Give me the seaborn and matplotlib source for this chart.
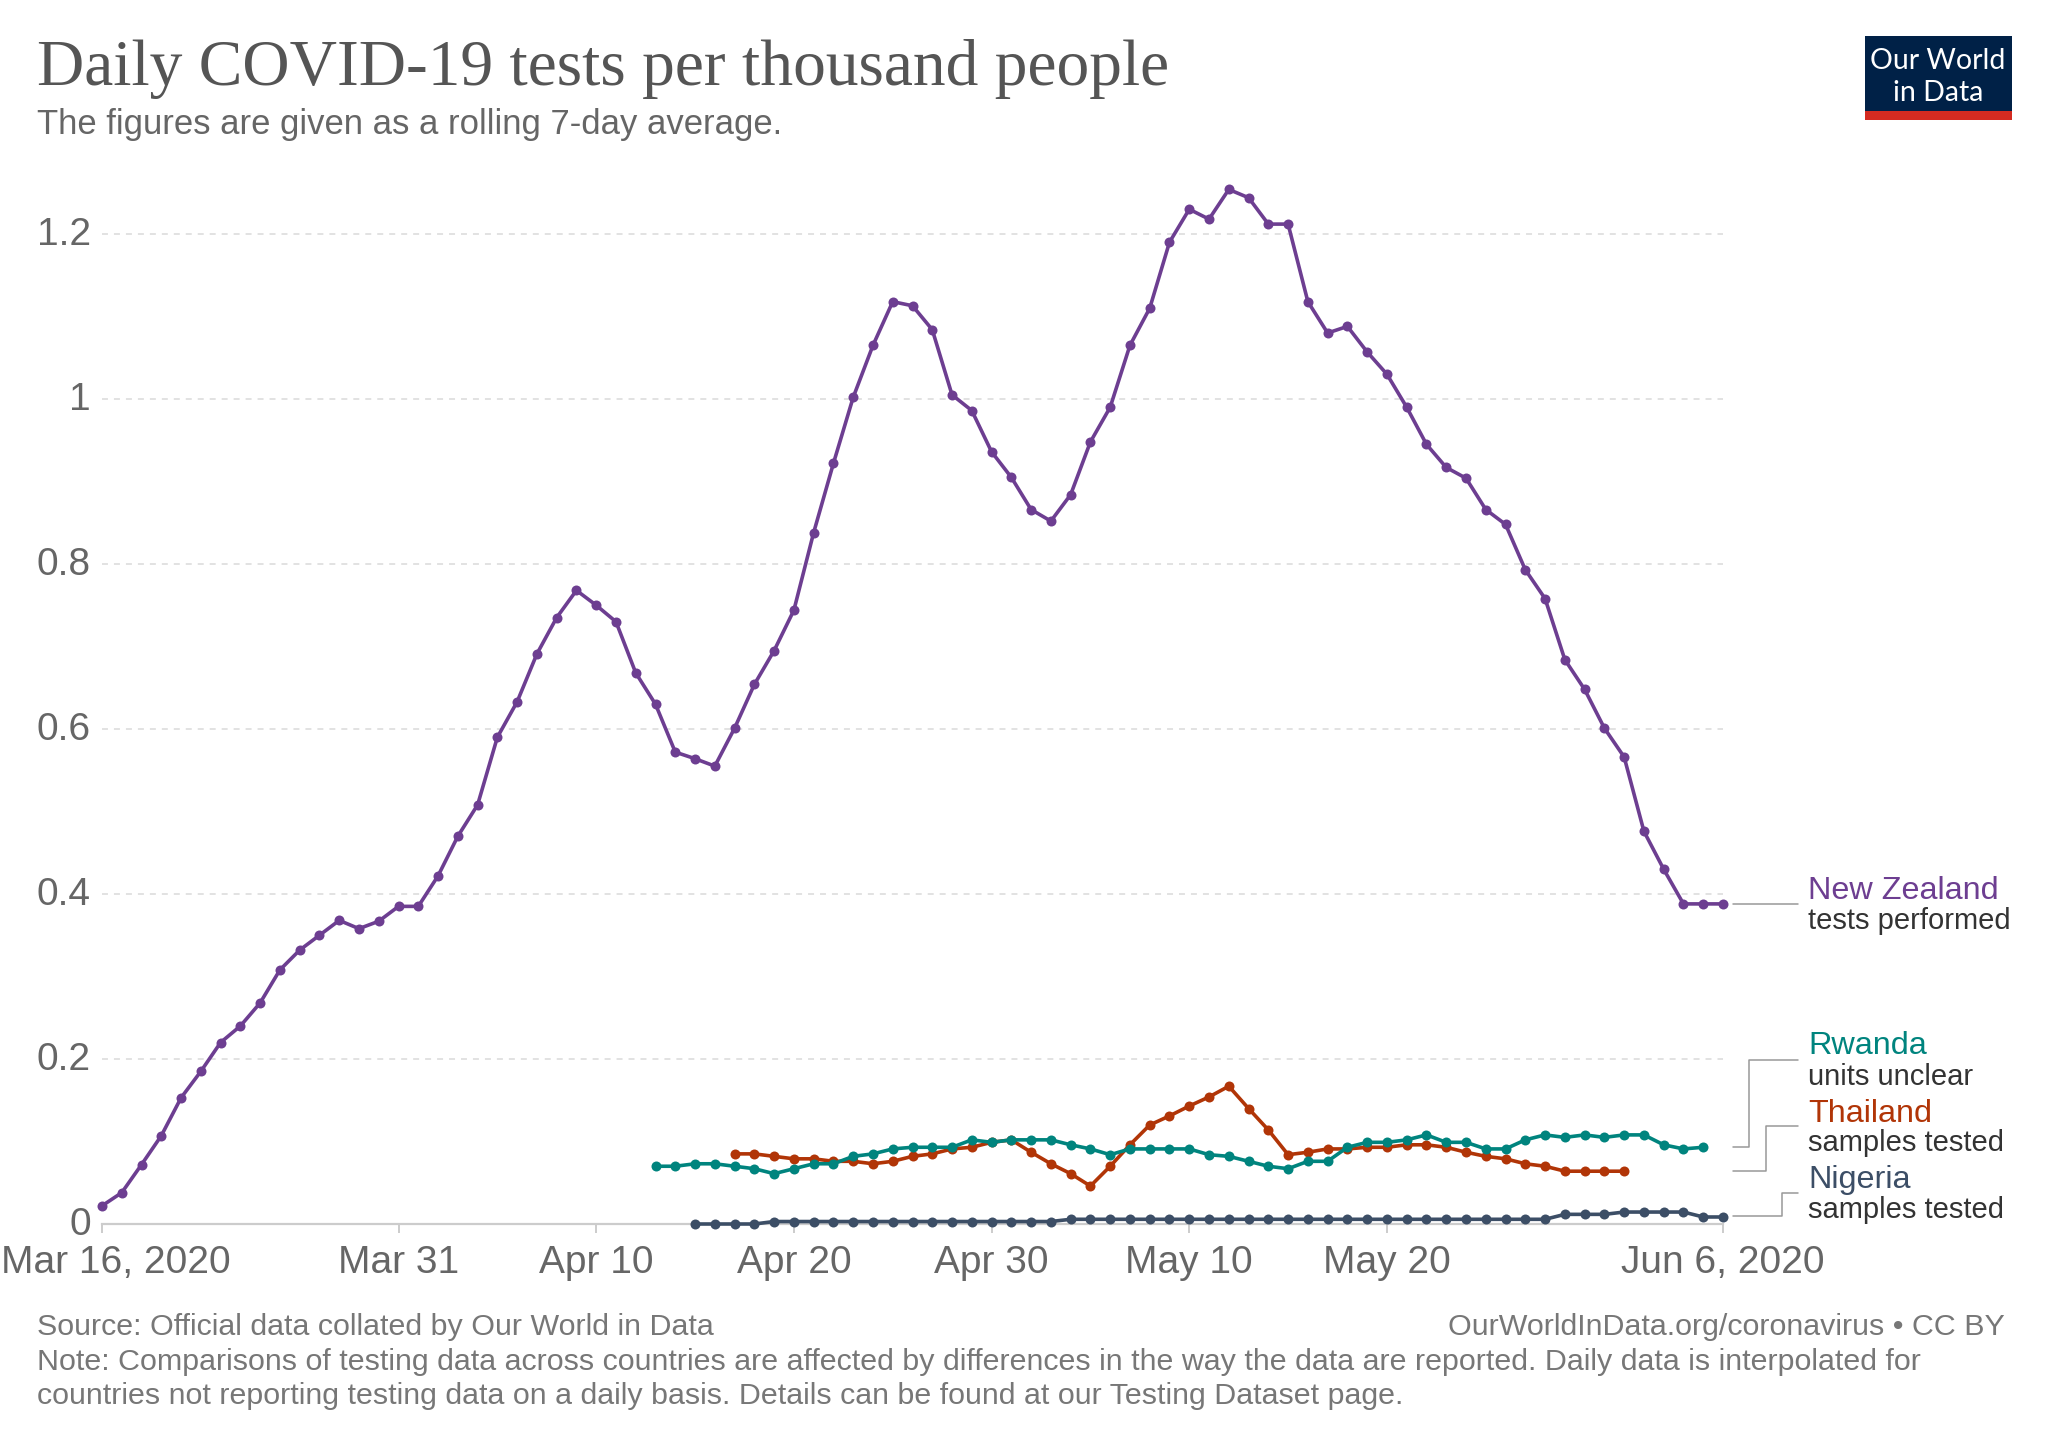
import matplotlib
matplotlib.use("Agg")
import matplotlib.pyplot as plt
from matplotlib.lines import Line2D
from matplotlib.patches import Rectangle
from matplotlib.transforms import ScaledTranslation
import numpy as np
import pandas as pd
import seaborn as sns

W, H = 2048, 1446

# values, one per day from the start date
SERIES = {
	"New Zealand": ("2020-03-16", [
		.022, .038, .072, .107, .153, .185, .22, .24, .268, .308, .332, .35, .368, .358, .367, .385, .385,
		.422, .47, .508, .59, .633, .691, .735, .768, .75, .73, .668, .63, .572, .564, .555, .601, .654,
		.695, .744, .838, .922, 1.002, 1.065, 1.118, 1.113, 1.084, 1.005, .986, .936, .905, .866, .852,
		.884, .948, .99, 1.065, 1.11, 1.19, 1.23, 1.218, 1.254, 1.244, 1.212, 1.212, 1.118, 1.08, 1.088,
		1.057, 1.03, .99, .945, .917, .904, .866, .848, .793, .758, .684, .648, .601, .566, .476, .43,
		.388, .388, .388]),
	"Nigeria": ("2020-04-15", [
		0, 0, 0, 0, .003, .003, .003, .003, .003, .003, .003, .003, .003, .003, .003, .003, .003, .003, .003,
		.0057, .0057, .0057, .0057, .0057, .0057, .0057, .0057, .0057, .0057, .0057, .0057, .0057, .0057, .0057,
		.0057, .0057, .0057, .0057, .0057, .0057, .0057, .0057, .0057, .0057, .0117, .0117, .0117, .0145, .0145,
		.0145, .0145, .0085, .0085]),
	"Thailand": ("2020-04-17", [
		.085, .085, .082, .079, .079, .076, .076, .073, .076, .082, .085, .091, .093, .099, .102, .087, .073,
		.061, .046, .07, .096, .12, .131, .143, .154, .167, .14, .114, .084, .087, .091, .091, .093, .093,
		.096, .096, .093, .087, .082, .079, .073, .07, .064, .064, .064, .064]),
	"Rwanda": ("2020-04-13", [
		.07, .07, .073, .073, .07, .067, .061, .067, .073, .073, .082, .085, .091, .093, .093, .093, .102,
		.099, .102, .102, .102, .096, .091, .084, .091, .091, .091, .091, .084, .082, .076, .07, .067, .076,
		.076, .093, .099, .099, .102, .108, .099, .099, .091, .091, .102, .108, .105, .108, .105, .108, .108,
		.096, .091, .093]),
}
COLORS = {"New Zealand": "#6D3E91", "Nigeria": "#3C4E66", "Thailand": "#B13507", "Rwanda": "#00847E"}

def px(x, y):
	return x / W, 1 - y / H

def text(fig, x, y, s, **kw):
	fig.text(*px(x, y), s, va="baseline", **kw)

def build_table():
	rows = []
	for name, (start, values) in SERIES.items():
		rows.append(pd.DataFrame({
			"date": pd.date_range(start, periods=len(values)),
			"tests": values,
			"country": name,
		}))
	return pd.concat(rows, ignore_index=True)

def main():
	sns.set_style("white")
	plt.rcParams["font.family"] = ["Liberation Sans", "DejaVu Sans"]

	fig = plt.figure(figsize=(W / 100, H / 100), dpi=100)
	top = 1.27
	ax = fig.add_axes([102 / W, (H - 1224) / H, 1621 / W, top * 825 / H])

	df = build_table()
	sns.lineplot(data=df, x="date", y="tests", hue="country", hue_order=list(SERIES), palette=COLORS,
		estimator=None, sort=False, marker="o", markersize=7.2, markeredgewidth=0, linewidth=2.6,
		legend=False, clip_on=False, zorder=3, ax=ax)

	ax.set_xlim(pd.Timestamp("2020-03-16"), pd.Timestamp("2020-06-06"))
	ax.set_ylim(0, top)
	ax.set_xlabel("")
	ax.set_ylabel("")

	# axes
	ticks = pd.to_datetime(["2020-03-16", "2020-03-31", "2020-04-10", "2020-04-20", "2020-04-30",
		"2020-05-10", "2020-05-20", "2020-06-06"])
	ax.set_xticks(ticks)
	ax.set_xticklabels(["Mar 16, 2020", "Mar 31", "Apr 10", "Apr 20", "Apr 30", "May 10", "May 20", "Jun 6, 2020"])
	ax.set_yticks(np.arange(0, 1.3, 0.2))
	ax.set_yticklabels(["0", "0.2", "0.4", "0.6", "0.8", "1", "1.2"])
	ax.tick_params(axis="x", length=6.5, width=1.4, color="#cccccc", labelsize=28, labelcolor="#666666", pad=8.5, bottom=True)
	ax.tick_params(axis="y", length=0, labelsize=28, labelcolor="#666666", pad=8)
	sns.despine(ax=ax, left=True)
	ax.spines["bottom"].set_color("#cccccc")
	ax.spines["bottom"].set_linewidth(1.6)
	ax.set_axisbelow(True)
	ax.yaxis.grid(True, color="#dddddd", linewidth=1.2, linestyle=(0, (3.59, 3.59)))
	ax.xaxis.grid(False)

	# first date label is pushed right to stay on the page
	first = ax.get_xticklabels()[0]
	first.set_transform(first.get_transform() + ScaledTranslation(14 / 100, 0, fig.dpi_scale_trans))
	# value labels sit a little above their gridlines
	for lab in ax.get_yticklabels():
		lab.set_transform(lab.get_transform() + ScaledTranslation(0, 3 / 100, fig.dpi_scale_trans))

	# title
	text(fig, 37, 85, "Daily COVID-19 tests per thousand people", fontsize=47.2, color="#555555", family="Liberation Serif")
	text(fig, 37, 134, "The figures are given as a rolling 7-day average.", fontsize=24.9, color="#666666")

	# logo
	fig.add_artist(Rectangle(px(1865, 120), 147 / W, 84 / H, transform=fig.transFigure, color="#002147", lw=0))
	fig.add_artist(Rectangle(px(1865, 120), 147 / W, 9 / H, transform=fig.transFigure, color="#D42B21", lw=0))
	text(fig, 1938, 69, "Our World", fontsize=20.5, color="white", family="Lato", ha="center")
	text(fig, 1938, 101, "in Data", fontsize=20.5, color="white", family="Lato", ha="center")

	# series labels and their connectors
	labels = [
		("New Zealand", "tests performed", 899, 929, [(1733, 904), (1798, 904)]),
		("Rwanda", "units unclear", 1054, 1085, [(1733, 1147), (1749, 1147), (1749, 1060), (1798, 1060)]),
		("Thailand", "samples tested", 1122, 1151, [(1733, 1171), (1766, 1171), (1766, 1126), (1798, 1126)]),
		("Nigeria", "samples tested", 1188, 1218, [(1733, 1216), (1782, 1216), (1782, 1193), (1798, 1193)]),
	]
	for name, sub, y1, y2, path in labels:
		text(fig, 1808, y1, name, fontsize=23.3, color=COLORS[name])
		text(fig, 1808, y2, sub, fontsize=21, color="#333333")
		xs, ys = zip(*[px(*p) for p in path])
		fig.add_artist(Line2D(xs, ys, color="#999999", linewidth=1.1))

	# footer
	foot = "#777777"
	text(fig, 37, 1335, "Source: Official data collated by Our World in Data", fontsize=21.83, color=foot)
	text(fig, 2005, 1335, "OurWorldInData.org/coronavirus • CC BY", fontsize=21.83, color=foot, ha="right")
	text(fig, 37, 1370, "Note: Comparisons of testing data across countries are affected by differences in the way the data are reported. Daily data is interpolated for", fontsize=21.83, color=foot)
	text(fig, 37, 1404, "countries not reporting testing data on a daily basis. Details can be found at our Testing Dataset page.", fontsize=21.83, color=foot)

	fig.savefig("out.png", dpi=100, facecolor="white")
	plt.close(fig)

if __name__ == "__main__":
	main()
